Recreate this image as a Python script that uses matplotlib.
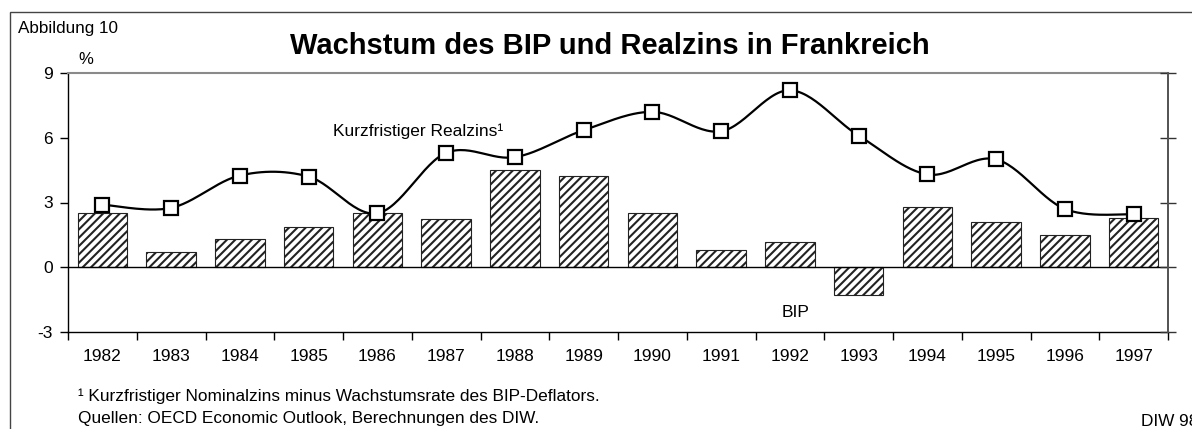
import numpy as np
import matplotlib
matplotlib.use("Agg")
import matplotlib.pyplot as plt
from matplotlib.patches import Rectangle

plt.rcParams['font.family'] = ['Liberation Sans', 'DejaVu Sans']
plt.rcParams['hatch.linewidth'] = 1.5

years = ["1982", "1983", "1984", "1985", "1986", "1987", "1988", "1989",
         "1990", "1991", "1992", "1993", "1994", "1995", "1996", "1997"]
bip = [2.5, 0.7, 1.3, 1.85, 2.5, 2.25, 4.5, 4.25, 2.5, 0.8, 1.15, -1.3, 2.8, 2.1, 1.5, 2.3]
realzins = [2.9, 2.75, 4.25, 4.2, 2.5, 5.3, 5.1, 6.35, 7.2, 6.3, 8.2, 6.1, 4.3, 5.0, 2.7, 2.45]
yticks = [-3, 0, 3, 6, 9]

W, H = 1192, 429
fig = plt.figure(figsize=(W / 100, H / 100), dpi=100)

# outer frame
fig.patches.append(Rectangle((10 / W, -0.1), 1.2, 1 - 12 / H + 0.1, transform=fig.transFigure,
                             fill=False, edgecolor='#444444', linewidth=1.0, clip_on=False))

ax = fig.add_axes([68 / W, 1 - 332 / H, 1100 / W, 259 / H])
x = np.arange(len(years))

ax.bar(x, bip, width=0.72, color='white', edgecolor='#222222', hatch='////', linewidth=0.8, zorder=2)
ax.axhline(0, color='black', linewidth=1.0, zorder=3)


def smooth(xs, ys, n=30):
    P = np.column_stack([xs, ys]).astype(float)
    Pe = np.vstack([P[0], P, P[-1]])
    out = []
    for i in range(len(P) - 1):
        p0, p1, p2, p3 = Pe[i], Pe[i + 1], Pe[i + 2], Pe[i + 3]
        b1 = p1 + (p2 - p0) / 6
        b2 = p2 - (p3 - p1) / 6
        t = np.linspace(0, 1, n)[:, None]
        seg = (1 - t) ** 3 * p1 + 3 * (1 - t) ** 2 * t * b1 + 3 * (1 - t) * t ** 2 * b2 + t ** 3 * p2
        out.append(seg if i == 0 else seg[1:])
    c = np.vstack(out)
    return c[:, 0], c[:, 1]


cx, cy = smooth(x, realzins)
ax.plot(cx, cy, color='black', linewidth=1.6, zorder=4)
ax.plot(x, realzins, linestyle='none', marker='s', markersize=9.5, markerfacecolor='white',
        markeredgecolor='black', markeredgewidth=1.6, zorder=5)

ax.set_xlim(-0.5, len(years) - 0.5)
ax.set_ylim(-3, 9)
ax.set_yticks(yticks)
ax.set_yticklabels([str(v) for v in yticks], fontsize=12.5)
ax.set_xticks(np.arange(-0.5, len(years), 1.0))
ax.set_xticklabels([])
ax.set_xticks(x, minor=True)
ax.set_xticklabels(years, minor=True, fontsize=12.5)
ax.tick_params(axis='x', which='major', direction='out', length=6, width=1)
ax.tick_params(axis='x', which='minor', length=0, pad=12)
ax.tick_params(axis='y', direction='out', length=6, width=1, pad=5)

ax.spines['top'].set_color('#8a8a8a')
ax.spines['top'].set_linewidth(1.5)
ax.spines['right'].set_color('#555555')
ax.spines['right'].set_linewidth(1.3)
ax.spines['left'].set_linewidth(1.0)
ax.spines['bottom'].set_linewidth(1.0)

ax2 = ax.twinx()
ax2.set_ylim(-3, 9)
ax2.set_yticks(yticks)
ax2.set_yticklabels([])
ax2.tick_params(axis='y', direction='inout', length=12, width=1, color='#333333')
for s in ['top', 'left', 'bottom']:
    ax2.spines[s].set_visible(False)
ax2.spines['right'].set_color('#555555')
ax2.spines['right'].set_linewidth(1.3)


def px2x(px):
    return (px - 68) / 1100 * 16 - 0.5


ax.text(px2x(333), 6.32, "Kurzfristiger Realzins\u00b9", fontsize=12.5, ha='left', va='center')
ax.text(px2x(796), -2.1, "BIP", fontsize=12.5, ha='center', va='center')

fig.text(18 / W, 1 - 28 / H, "Abbildung 10", fontsize=12.3, ha='left', va='center')
fig.text(610 / W, 1 - 46 / H, "Wachstum des BIP und Realzins in Frankreich", fontsize=21,
         fontweight='bold', ha='center', va='center')
fig.text(78 / W, 1 - 60 / H, "%", fontsize=12, ha='left', va='center')
fig.text(78 / W, 1 - 396 / H, "\u00b9 Kurzfristiger Nominalzins minus Wachstumsrate des BIP-Deflators.",
         fontsize=12.4, ha='left', va='center')
fig.text(78 / W, 1 - 419 / H, "Quellen: OECD Economic Outlook, Berechnungen des DIW.",
         fontsize=12.4, ha='left', va='center')
fig.text(1141 / W, 1 - 421 / H, "DIW 98", fontsize=12.4, ha='left', va='center')

fig.savefig("out.png", dpi=100)
